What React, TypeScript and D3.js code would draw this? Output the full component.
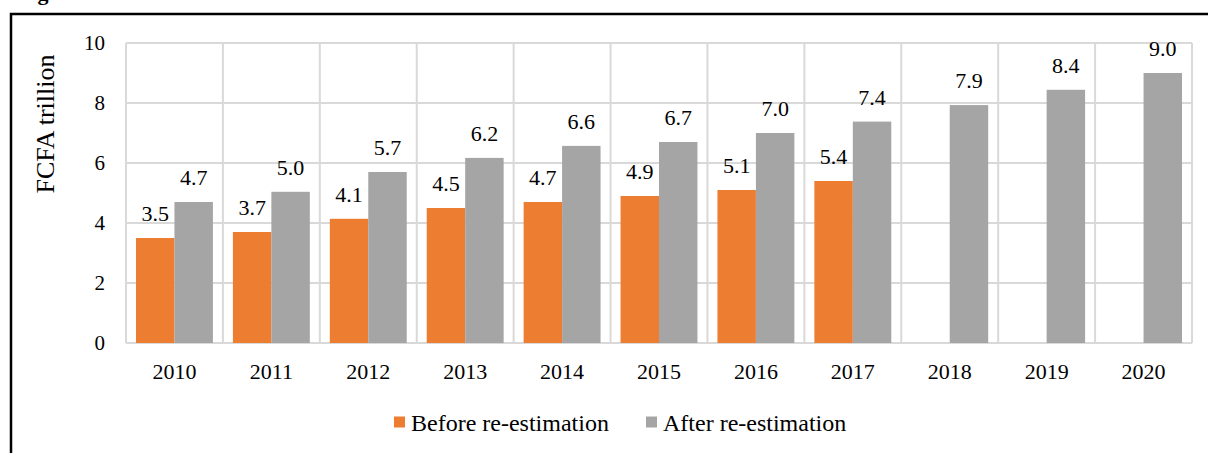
import React, { useRef, useEffect } from "react";
import * as d3 from "d3";

const years = ["2010", "2011", "2012", "2013", "2014", "2015", "2016", "2017", "2018", "2019", "2020"];
const beforeValues = [3.5, 3.7, 4.14, 4.5, 4.7, 4.9, 5.1, 5.4];
const afterValues = [4.7, 5.04, 5.7, 6.17, 6.57, 6.7, 7.0, 7.38, 7.93, 8.44, 9.0];
const seriesNames = ["Before re-estimation", "After re-estimation"];
const yTicks = [0, 2, 4, 6, 8, 10];

const colors = ["#ED7D31", "#A5A5A5"];
const font = "Liberation Serif, Times New Roman, serif";

const App = () => {
  const svgRef = useRef<SVGSVGElement>(null);

  useEffect(() => {
    if (!svgRef.current) return;
    const W = 1208;
    const H = 453;
    const plot = { left: 126, right: 1192, top: 43, bottom: 343 };

    const svg = d3.select(svgRef.current).attr("width", W).attr("height", H);
    svg.selectAll("*").remove();

    // caption, cut off at the top of the crop like in the source
    svg
      .append("text")
      .attr("x", 18)
      .attr("y", 0)
      .attr("font-family", font)
      .attr("font-weight", "bold")
      .attr("font-size", 22)
      .text("Figure");

    // frame
    svg
      .append("rect")
      .attr("x", 11)
      .attr("y", 14)
      .attr("width", 1300)
      .attr("height", 600)
      .attr("fill", "none")
      .attr("stroke", "#000")
      .attr("stroke-width", 2.5);

    const x = d3.scaleBand().domain(years).range([plot.left, plot.right]).padding(0);
    const xs = d3.scaleBand().domain(seriesNames).range([0, x.bandwidth()]).paddingInner(0).paddingOuter(0.26);
    const y = d3.scaleLinear().domain([0, 10]).range([plot.bottom, plot.top]);

    const grid = svg.append("g").attr("stroke", "#D9D9D9").attr("stroke-width", 2);
    yTicks.forEach((t) => {
      grid
        .append("line")
        .attr("x1", plot.left)
        .attr("x2", plot.right)
        .attr("y1", y(t))
        .attr("y2", y(t));
    });
    years.forEach((yr, i) => {
      const xx = x(yr)!;
      grid.append("line").attr("x1", xx).attr("x2", xx).attr("y1", plot.top).attr("y2", plot.bottom);
      if (i === years.length - 1) {
        grid
          .append("line")
          .attr("x1", xx + x.bandwidth())
          .attr("x2", xx + x.bandwidth())
          .attr("y1", plot.top)
          .attr("y2", plot.bottom);
      }
    });

    const fmt = d3.format(".1f");
    const bars = svg.append("g");
    const labels = svg.append("g");

    [beforeValues, afterValues].forEach((vals, s) => {
      vals.forEach((v, i) => {
        const bx = x(years[i])! + xs(seriesNames[s])!;
        bars
          .append("rect")
          .attr("x", bx)
          .attr("y", y(v))
          .attr("width", xs.bandwidth())
          .attr("height", y(0) - y(v))
          .attr("fill", colors[s]);
        labels
          .append("text")
          .attr("x", bx + xs.bandwidth() / 2)
          .attr("y", y(v) - 17)
          .attr("text-anchor", "middle")
          .attr("font-family", font)
          .attr("font-size", 22)
          .attr("fill", "#000")
          .text(fmt(v));
      });
    });

    // y ticks
    svg
      .append("g")
      .selectAll("text")
      .data(yTicks)
      .join("text")
      .attr("x", 105)
      .attr("y", (d) => y(d))
      .attr("dy", "0.35em")
      .attr("text-anchor", "end")
      .attr("font-family", font)
      .attr("font-size", 21)
      .text((d) => d);

    // x ticks
    svg
      .append("g")
      .selectAll("text")
      .data(years)
      .join("text")
      .attr("x", (d) => x(d)! + x.bandwidth() / 2)
      .attr("y", 379)
      .attr("text-anchor", "middle")
      .attr("font-family", font)
      .attr("font-size", 22)
      .text((d) => d);

    // y title
    svg
      .append("text")
      .attr("transform", "translate(54,124) rotate(-90)")
      .attr("text-anchor", "middle")
      .attr("font-family", font)
      .attr("font-size", 26)
      .text("FCFA trillion");

    // legend
    const legendX = [394, 646];
    const legend = svg.append("g");
    seriesNames.forEach((name, s) => {
      legend
        .append("rect")
        .attr("x", legendX[s])
        .attr("y", 416.5)
        .attr("width", 11)
        .attr("height", 11)
        .attr("fill", colors[s]);
      legend
        .append("text")
        .attr("x", legendX[s] + 17)
        .attr("y", 431)
        .attr("font-family", font)
        .attr("font-size", 24)
        .text(name);
    });
  }, []);

  return (
    <div style={{ position: "absolute", left: 0, top: 0, width: 1208, height: 453, background: "#fff" }}>
      <svg ref={svgRef} style={{ display: "block" }}></svg>
    </div>
  );
};

export default App;
